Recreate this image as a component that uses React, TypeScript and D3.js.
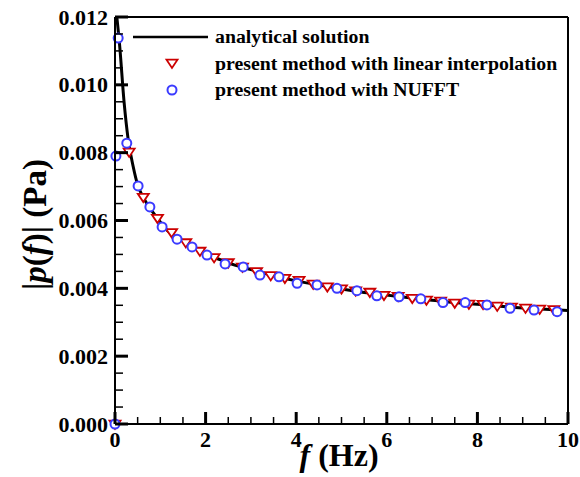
import React from "react";
import * as d3 from "d3";

const xTicks = [0, 2, 4, 6, 8, 10];
const yTicks = [0, 0.002, 0.004, 0.006, 0.008, 0.01, 0.012];
const yTickLabels = ["0.000", "0.002", "0.004", "0.006", "0.008", "0.010", "0.012"];

const analyticF = [0.04, 0.1, 0.2, 0.29, 0.4, 0.5, 0.625, 0.75, 0.9375, 1.1, 1.25, 1.5, 1.75, 2.0, 2.25, 2.5, 3.0, 3.5, 4.0, 4.5, 5.0, 5.5, 6.0, 6.5, 7.0, 7.5, 8.0, 8.5, 9.0, 9.5, 10];
const analyticP = [0.012, 0.0112, 0.0095, 0.0084, 0.0076, 0.00705, 0.00668, 0.0064, 0.00607, 0.00578, 0.0056, 0.0054, 0.0052, 0.005, 0.00488, 0.00475, 0.00455, 0.00437, 0.00422, 0.0041, 0.00398, 0.00388, 0.0038, 0.00372, 0.00365, 0.00358, 0.00353, 0.00347, 0.00342, 0.00338, 0.00335];

const linF = [0, 0.3125, 0.625, 0.9375, 1.25, 1.5625, 1.875, 2.1875, 2.5, 2.8125, 3.125, 3.4375, 3.75, 4.0625, 4.375, 4.6875, 5.0, 5.3125, 5.625, 5.9375, 6.25, 6.5625, 6.875, 7.1875, 7.5, 7.8125, 8.125, 8.4375, 8.75, 9.0625, 9.375, 9.6875];
const linP = [0, 0.00802, 0.00669, 0.00607, 0.00565, 0.00535, 0.0051, 0.00491, 0.00476, 0.00463, 0.0045, 0.00438, 0.0043, 0.00424, 0.00413, 0.00405, 0.00399, 0.00393, 0.00389, 0.0038, 0.00377, 0.00371, 0.00366, 0.00363, 0.00357, 0.00354, 0.00353, 0.00348, 0.00345, 0.00342, 0.00339, 0.00338];

const nufftF = [0, 0.02, 0.07, 0.26, 0.51, 0.77, 1.04, 1.37, 1.7, 2.03, 2.43, 2.83, 3.2, 3.62, 4.02, 4.46, 4.9, 5.34, 5.78, 6.27, 6.75, 7.24, 7.73, 8.21, 8.72, 9.25, 9.76];
const nufftP = [0, 0.0079, 0.01138, 0.00828, 0.00702, 0.0064, 0.00581, 0.00545, 0.00522, 0.00498, 0.00472, 0.00463, 0.00439, 0.00434, 0.00415, 0.0041, 0.004, 0.00393, 0.00378, 0.00375, 0.00369, 0.00358, 0.00358, 0.00351, 0.00341, 0.00336, 0.00331];

const legendLabels = ["analytical solution", "present method with linear interpolation", "present method with NUFFT"];

const RED = "#cc0000";
const BLUE = "#3b3bff";
const FONT = "'Liberation Serif', 'Times New Roman', serif";

export default function App() {
  const L = 115, R = 568, T = 17, B = 424;
  const x = d3.scaleLinear().domain([0, 10]).range([L, R]);
  const y = d3.scaleLinear().domain([0, 0.012]).range([B, T]);

  const xMinor = d3.range(0, 10.001, 0.5).filter((v) => Math.abs(v / 2 - Math.round(v / 2)) > 1e-6);
  const yMinor = d3.range(0, 0.01201, 0.0005).filter((v) => Math.abs(v / 0.002 - Math.round(v / 0.002)) > 1e-6);

  const line = d3
    .line<number>()
    .x((_, i) => x(analyticF[i]))
    .y((_, i) => y(analyticP[i]))
    .curve(d3.curveMonotoneX);

  const tri = (cx: number, cy: number, s = 5.5) =>
    `M${cx - s},${cy - s * 0.6} L${cx + s},${cy - s * 0.6} L${cx},${cy + s * 0.9} Z`;

  return (
    <svg width={580} height={477} style={{ position: "absolute", left: 0, top: 0, background: "#fff" }} fontFamily={FONT}>
      <rect x={0} y={0} width={580} height={477} fill="#fff" />
      {/* frame */}
      <line x1={L} y1={T} x2={R} y2={T} stroke="#000" strokeWidth={2} />
      <line x1={R} y1={T} x2={R} y2={B} stroke="#000" strokeWidth={2} />

      {/* data */}
      <path d={line(analyticF) || ""} fill="none" stroke="#000" strokeWidth={3} />
      {linF.map((f, i) => (
        <path key={"t" + i} d={tri(x(f), y(linP[i]))} fill="#fff" stroke={RED} strokeWidth={1.8} />
      ))}
      {nufftF.map((f, i) => (
        <circle key={"c" + i} cx={x(f)} cy={y(nufftP[i])} r={4.5} fill="#fff" stroke={BLUE} strokeWidth={2} />
      ))}

      {/* axes */}
      <line x1={L} y1={B} x2={R} y2={B} stroke="#000" strokeWidth={2} />
      <line x1={L} y1={T} x2={L} y2={B} stroke="#000" strokeWidth={2} />
      {xTicks.map((v) => (
        <g key={"xt" + v}>
          <line x1={x(v)} x2={x(v)} y1={B} y2={B - 12} stroke="#000" strokeWidth={3} />
          <text x={x(v)} y={447} textAnchor="middle" fontSize={22} fontWeight="bold">{v}</text>
        </g>
      ))}
      {xMinor.map((v) => (
        <line key={"xm" + v} x1={x(v)} x2={x(v)} y1={B} y2={B - 7} stroke="#000" strokeWidth={1.5} />
      ))}
      {yTicks.map((v, i) => (
        <g key={"yt" + v}>
          <line x1={L} x2={L + 13} y1={y(v)} y2={y(v)} stroke="#000" strokeWidth={3} />
          <text x={108} y={y(v) + 7.5} textAnchor="end" fontSize={22} fontWeight="bold">{yTickLabels[i]}</text>
        </g>
      ))}
      {yMinor.map((v) => (
        <line key={"ym" + v} x1={L} x2={L + 8} y1={y(v)} y2={y(v)} stroke="#000" strokeWidth={1.5} />
      ))}

      {/* axis titles */}
      <text x={339} y={466} textAnchor="middle" fontSize={32} fontWeight="bold">
        <tspan fontStyle="italic">f</tspan> (Hz)
      </text>
      <text transform={`translate(46,${(T + B) / 2 + 4}) rotate(-90)`} textAnchor="middle" fontSize={33} fontWeight="bold">
        |<tspan fontStyle="italic">p</tspan>(<tspan fontStyle="italic">f</tspan>)| (Pa)
      </text>

      {/* legend */}
      <line x1={133} x2={208} y1={37} y2={37} stroke="#000" strokeWidth={2.5} />
      <path d={tri(172, 63)} fill="#fff" stroke={RED} strokeWidth={1.8} />
      <circle cx={172} cy={90} r={4.5} fill="#fff" stroke={BLUE} strokeWidth={2} />
      {legendLabels.map((t, i) => (
        <text key={t} x={215} y={43 + i * 26.5} fontSize={19.8} fontWeight="bold">{t}</text>
      ))}
    </svg>
  );
}
